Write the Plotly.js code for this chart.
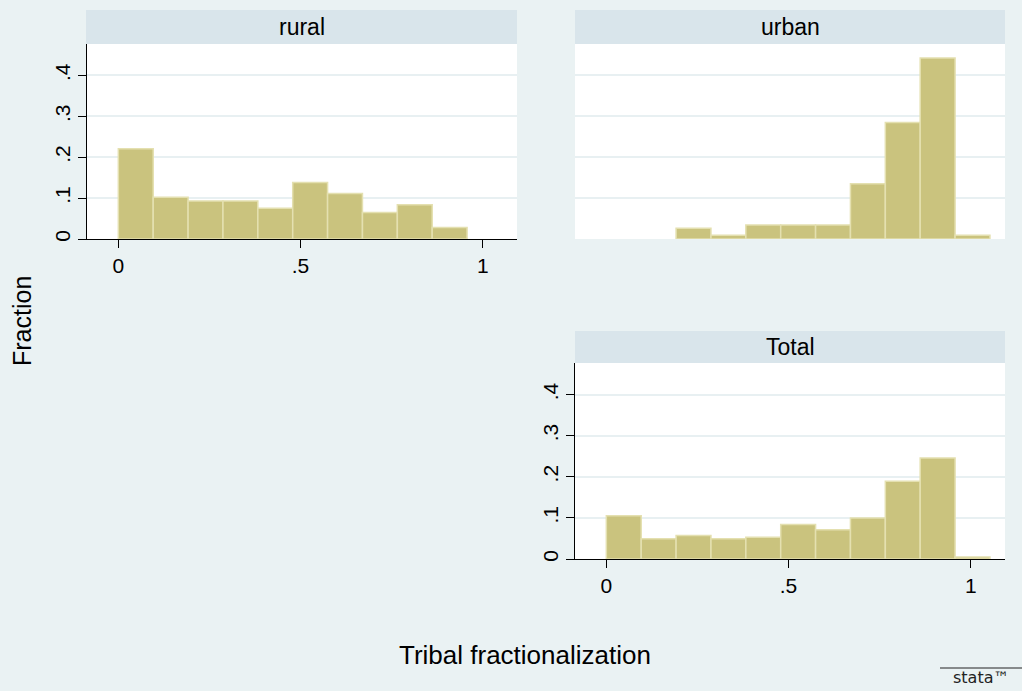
<!DOCTYPE html>
<html>
<head>
<meta charset="utf-8">
<script src="https://cdn.plot.ly/plotly-3.0.1.min.js"></script>
<style>html,body{margin:0;padding:0;background:#EAF2F3;}#chart{width:1022px;height:691px;}</style>
</head>
<body>
<div id="chart"></div>
<script>
// Histogram bins (left edges and right edges)
var binEdges = [0, 0.0957, 0.1914, 0.2871, 0.3828, 0.4785, 0.5742, 0.6699, 0.7656, 0.8613, 0.957, 1.0527];
// Fractions per bin (null = empty bin, no bar drawn)
var rural = [0.221, 0.102, 0.093, 0.093, 0.075, 0.138, 0.111, 0.065, 0.084, 0.028, null];
var urban = [null, null, 0.026, 0.009, 0.034, 0.034, 0.034, 0.135, 0.285, 0.443, 0.009];
var total = [0.105, 0.049, 0.057, 0.049, 0.053, 0.084, 0.071, 0.100, 0.189, 0.246, 0.005];
var panelNames = ['rural', 'urban', 'Total'];
var xTickVals = [0, 0.5, 1];
var xTickText = ['0', '.5', '1'];
var yTickVals = [0, 0.1, 0.2, 0.3, 0.4];
var yTickText = ['0', '.1', '.2', '.3', '.4'];
var yTitle = 'Fraction';
var xTitle = 'Tribal fractionalization';

var W = 1022, H = 691;
var lefts = binEdges.slice(0, -1);
var widths = lefts.map(function (e, i) { return binEdges[i + 1] - e; });

var barColor = '#CAC37E';
var barLine = '#E4E0B0';
var font = 'Liberation Sans, Arial, sans-serif';

function px(x) { return x / W; }
function py(y) { return 1 - y / H; }

function barTrace(vals, xa, ya) {
  return {
    type: 'bar', x: lefts, y: vals, width: widths, offset: 0,
    xaxis: xa, yaxis: ya,
    marker: {color: barColor, line: {color: barLine, width: 1.5}},
    hoverinfo: 'x+y', showlegend: false
  };
}

var data = [
  barTrace(rural, 'x', 'y'),
  barTrace(urban, 'x2', 'y2'),
  barTrace(total, 'x3', 'y3')
];

var xr = [-0.086, 1.094];
var yr = [0, 0.477];

function xaxis(dom, anchor, show) {
  return {
    domain: dom, anchor: anchor, range: xr, fixedrange: true,
    showgrid: false, zeroline: false,
    showline: show, linecolor: '#000', linewidth: 1,
    ticks: show ? 'outside' : '', ticklen: 8, tickcolor: '#000', tickwidth: 1,
    showticklabels: show, tickvals: xTickVals, ticktext: xTickText,
    tickfont: {family: font, size: 21, color: '#000'}
  };
}
function yaxis(dom, anchor, show) {
  return {
    domain: dom, anchor: anchor, range: yr, fixedrange: true,
    showgrid: true, gridcolor: '#E8F0F2', gridwidth: 2, zeroline: false,
    showline: show, linecolor: '#000', linewidth: 1,
    ticks: show ? 'outside' : '', ticklen: 8, tickcolor: '#000', tickwidth: 1,
    showticklabels: show, tickvals: yTickVals, ticktext: yTickText, tickangle: -90,
    tickfont: {family: font, size: 21, color: '#000'}
  };
}

var dRuralX = [px(87), px(517)];
var dRightX = [px(575), px(1005)];
var dTopY = [py(239), py(44)];
var dBotY = [py(559), py(363)];

var strips = [
  {x0: 86, x1: 517, y0: 10, y1: 44, name: panelNames[0]},
  {x0: 575, x1: 1005, y0: 10, y1: 44, name: panelNames[1]},
  {x0: 575, x1: 1005, y0: 331, y1: 363, name: panelNames[2]}
];

var shapes = strips.map(function (s) {
  return {type: 'rect', xref: 'paper', yref: 'paper', x0: px(s.x0), x1: px(s.x1), y0: py(s.y1), y1: py(s.y0),
    fillcolor: '#D9E5EB', line: {width: 0}, layer: 'below'};
});
shapes.push({type: 'line', xref: 'paper', yref: 'paper', x0: px(940), x1: px(1022), y0: py(668), y1: py(668),
  line: {color: '#222', width: 1}});

var annotations = strips.map(function (s) {
  return {xref: 'paper', yref: 'paper', x: px((s.x0 + s.x1) / 2), y: py((s.y0 + s.y1) / 2),
    text: s.name, showarrow: false, xanchor: 'center', yanchor: 'middle',
    font: {family: font, size: 23, color: '#000'}};
});
annotations.push({xref: 'paper', yref: 'paper', x: px(22), y: py(321), text: yTitle, textangle: -90,
  showarrow: false, xanchor: 'center', yanchor: 'middle', font: {family: font, size: 25, color: '#000'}});
annotations.push({xref: 'paper', yref: 'paper', x: px(525), y: py(655), text: xTitle,
  showarrow: false, xanchor: 'center', yanchor: 'middle', font: {family: font, size: 26, color: '#000'}});
annotations.push({xref: 'paper', yref: 'paper', x: px(981), y: py(677), text: 'stata™',
  showarrow: false, xanchor: 'center', yanchor: 'middle', font: {family: 'DejaVu Sans, sans-serif', size: 16, color: '#222'}});

var layout = {
  width: W, height: H,
  margin: {l: 0, r: 0, t: 0, b: 0},
  paper_bgcolor: '#EAF2F3', plot_bgcolor: '#FFFFFF',
  bargap: 0, showlegend: false,
  xaxis: xaxis(dRuralX, 'y', true),
  yaxis: yaxis(dTopY, 'x', true),
  xaxis2: xaxis(dRightX, 'y2', false),
  yaxis2: yaxis(dTopY, 'x2', false),
  xaxis3: xaxis(dRightX, 'y3', true),
  yaxis3: yaxis(dBotY, 'x3', true),
  shapes: shapes,
  annotations: annotations
};

Plotly.newPlot('chart', data, layout, {displayModeBar: false, staticPlot: true});
</script>
</body>
</html>
